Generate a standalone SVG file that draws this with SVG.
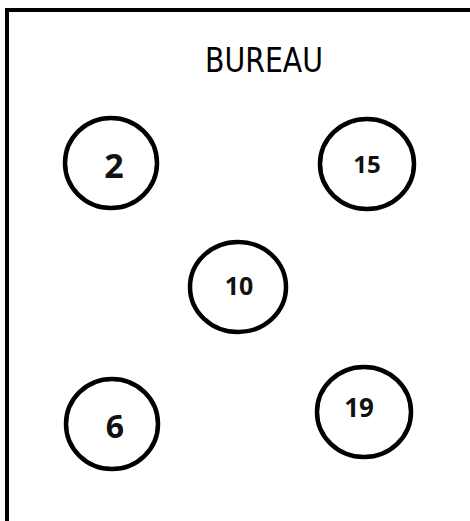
<svg xmlns="http://www.w3.org/2000/svg" width="470" height="521" viewBox="0 0 470 521">
<style>
.seat{fill:#fff;stroke:#000;stroke-width:4.5}
.num{font-family:"Open Sans","Liberation Sans",Arial,sans-serif;font-weight:bold;fill:#111;text-anchor:middle}
.title{font-family:"DejaVu Sans","Liberation Sans",sans-serif;fill:#000;text-anchor:middle}
</style>
<rect width="470" height="521" fill="#fff"/>
<g id="room">
<path d="M7,521 V10 H470" fill="none" stroke="#000" stroke-width="4"/>
<text class="title" x="264" y="72" font-size="34" textLength="118" lengthAdjust="spacingAndGlyphs">BUREAU</text>
</g>
<g id="seat-2">
<ellipse class="seat" cx="111" cy="163" rx="46" ry="45"/>
<text class="num" x="114" y="178" font-size="34">2</text>
</g>
<g id="seat-15">
<ellipse class="seat" cx="367" cy="164" rx="47" ry="45"/>
<text class="num" x="367" y="173" font-size="24">15</text>
</g>
<g id="seat-10">
<ellipse class="seat" cx="238" cy="287" rx="48" ry="45"/>
<text class="num" x="239" y="295" font-size="25">10</text>
</g>
<g id="seat-6">
<ellipse class="seat" cx="112" cy="424" rx="46" ry="45"/>
<text class="num" x="115" y="438" font-size="32">6</text>
</g>
<g id="seat-19">
<ellipse class="seat" cx="364" cy="412" rx="47" ry="45"/>
<text class="num" x="359" y="417" font-size="26">19</text>
</g>
<g id="connectors"/>
</svg>
